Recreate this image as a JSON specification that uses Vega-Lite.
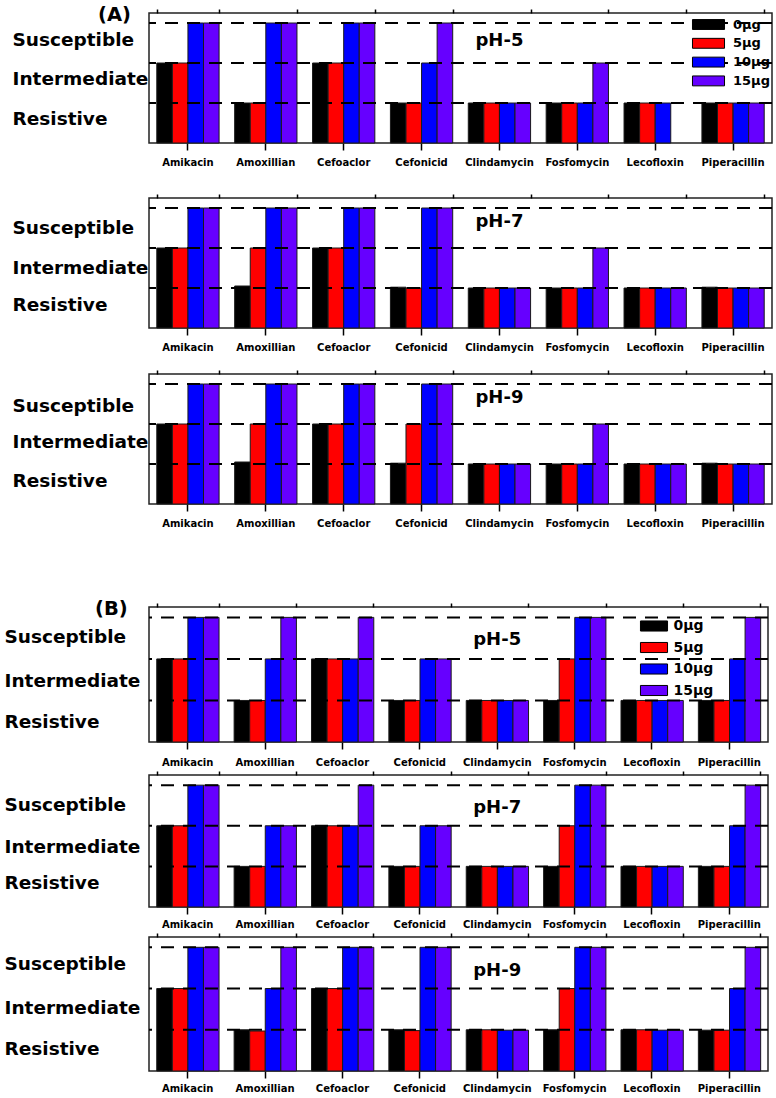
{
  "$schema": "https://vega.github.io/schema/vega-lite/v6.json",
  "padding": {"left": 3, "top": 4, "right": 0, "bottom": 0},
  "background": "white",
  "config": {
    "font": "DejaVu Sans",
    "view": {"stroke": "#222", "strokeWidth": 1.5},
    "axis": {"labelFont": "DejaVu Sans", "labelFontWeight": "bold", "labelColor": "#000", "domain": false, "grid": false},
    "axisX": {"labelAngle": 0, "labelFontSize": 10, "tickSize": 7, "tickColor": "#000", "tickWidth": 1.5, "labelPadding": 7},
    "axisY": {"labelAlign": "left", "labelBaseline": "middle", "labelFontSize": 18.5, "ticks": false},
    "title": {"font": "DejaVu Sans", "fontWeight": "bold", "fontSize": 19.5, "color": "#000", "anchor": "start", "frame": "group"}
  },
  "datasets": {
    "A5": [
      {"ab":"Amikacin","d":"0µg","v":2},{"ab":"Amikacin","d":"5µg","v":2},{"ab":"Amikacin","d":"10µg","v":3},{"ab":"Amikacin","d":"15µg","v":3},
      {"ab":"Amoxillian","d":"0µg","v":1},{"ab":"Amoxillian","d":"5µg","v":1},{"ab":"Amoxillian","d":"10µg","v":3},{"ab":"Amoxillian","d":"15µg","v":3},
      {"ab":"Cefoaclor","d":"0µg","v":2},{"ab":"Cefoaclor","d":"5µg","v":2},{"ab":"Cefoaclor","d":"10µg","v":3},{"ab":"Cefoaclor","d":"15µg","v":3},
      {"ab":"Cefonicid","d":"0µg","v":1},{"ab":"Cefonicid","d":"5µg","v":1},{"ab":"Cefonicid","d":"10µg","v":2},{"ab":"Cefonicid","d":"15µg","v":3},
      {"ab":"Clindamycin","d":"0µg","v":1},{"ab":"Clindamycin","d":"5µg","v":1},{"ab":"Clindamycin","d":"10µg","v":1},{"ab":"Clindamycin","d":"15µg","v":1},
      {"ab":"Fosfomycin","d":"0µg","v":1},{"ab":"Fosfomycin","d":"5µg","v":1},{"ab":"Fosfomycin","d":"10µg","v":1},{"ab":"Fosfomycin","d":"15µg","v":2},
      {"ab":"Lecofloxin","d":"0µg","v":1},{"ab":"Lecofloxin","d":"5µg","v":1},{"ab":"Lecofloxin","d":"10µg","v":1},
      {"ab":"Piperacillin","d":"0µg","v":1},{"ab":"Piperacillin","d":"5µg","v":1},{"ab":"Piperacillin","d":"10µg","v":1},{"ab":"Piperacillin","d":"15µg","v":1}
    ],
    "A7": [
      {"ab":"Amikacin","d":"0µg","v":2},{"ab":"Amikacin","d":"5µg","v":2},{"ab":"Amikacin","d":"10µg","v":3},{"ab":"Amikacin","d":"15µg","v":3},
      {"ab":"Amoxillian","d":"0µg","v":1.05},{"ab":"Amoxillian","d":"5µg","v":2},{"ab":"Amoxillian","d":"10µg","v":3},{"ab":"Amoxillian","d":"15µg","v":3},
      {"ab":"Cefoaclor","d":"0µg","v":2},{"ab":"Cefoaclor","d":"5µg","v":2},{"ab":"Cefoaclor","d":"10µg","v":3},{"ab":"Cefoaclor","d":"15µg","v":3},
      {"ab":"Cefonicid","d":"0µg","v":1.02},{"ab":"Cefonicid","d":"5µg","v":1},{"ab":"Cefonicid","d":"10µg","v":3},{"ab":"Cefonicid","d":"15µg","v":3},
      {"ab":"Clindamycin","d":"0µg","v":1},{"ab":"Clindamycin","d":"5µg","v":1},{"ab":"Clindamycin","d":"10µg","v":1},{"ab":"Clindamycin","d":"15µg","v":1},
      {"ab":"Fosfomycin","d":"0µg","v":1},{"ab":"Fosfomycin","d":"5µg","v":1},{"ab":"Fosfomycin","d":"10µg","v":1},{"ab":"Fosfomycin","d":"15µg","v":2},
      {"ab":"Lecofloxin","d":"0µg","v":1},{"ab":"Lecofloxin","d":"5µg","v":1},{"ab":"Lecofloxin","d":"10µg","v":1},{"ab":"Lecofloxin","d":"15µg","v":1},
      {"ab":"Piperacillin","d":"0µg","v":1.02},{"ab":"Piperacillin","d":"5µg","v":1},{"ab":"Piperacillin","d":"10µg","v":1},{"ab":"Piperacillin","d":"15µg","v":1}
    ],
    "A9": [
      {"ab":"Amikacin","d":"0µg","v":2},{"ab":"Amikacin","d":"5µg","v":2},{"ab":"Amikacin","d":"10µg","v":3},{"ab":"Amikacin","d":"15µg","v":3},
      {"ab":"Amoxillian","d":"0µg","v":1.05},{"ab":"Amoxillian","d":"5µg","v":2},{"ab":"Amoxillian","d":"10µg","v":3},{"ab":"Amoxillian","d":"15µg","v":3},
      {"ab":"Cefoaclor","d":"0µg","v":2},{"ab":"Cefoaclor","d":"5µg","v":2},{"ab":"Cefoaclor","d":"10µg","v":3},{"ab":"Cefoaclor","d":"15µg","v":3},
      {"ab":"Cefonicid","d":"0µg","v":1.02},{"ab":"Cefonicid","d":"5µg","v":2},{"ab":"Cefonicid","d":"10µg","v":3},{"ab":"Cefonicid","d":"15µg","v":3},
      {"ab":"Clindamycin","d":"0µg","v":1},{"ab":"Clindamycin","d":"5µg","v":1},{"ab":"Clindamycin","d":"10µg","v":1},{"ab":"Clindamycin","d":"15µg","v":1},
      {"ab":"Fosfomycin","d":"0µg","v":1},{"ab":"Fosfomycin","d":"5µg","v":1},{"ab":"Fosfomycin","d":"10µg","v":1},{"ab":"Fosfomycin","d":"15µg","v":2},
      {"ab":"Lecofloxin","d":"0µg","v":1},{"ab":"Lecofloxin","d":"5µg","v":1},{"ab":"Lecofloxin","d":"10µg","v":1},{"ab":"Lecofloxin","d":"15µg","v":1},
      {"ab":"Piperacillin","d":"0µg","v":1.02},{"ab":"Piperacillin","d":"5µg","v":1},{"ab":"Piperacillin","d":"10µg","v":1},{"ab":"Piperacillin","d":"15µg","v":1}
    ],
    "B5": [
      {"ab":"Amikacin","d":"0µg","v":2},{"ab":"Amikacin","d":"5µg","v":2},{"ab":"Amikacin","d":"10µg","v":3},{"ab":"Amikacin","d":"15µg","v":3},
      {"ab":"Amoxillian","d":"0µg","v":1},{"ab":"Amoxillian","d":"5µg","v":1},{"ab":"Amoxillian","d":"10µg","v":2},{"ab":"Amoxillian","d":"15µg","v":3},
      {"ab":"Cefoaclor","d":"0µg","v":2},{"ab":"Cefoaclor","d":"5µg","v":2},{"ab":"Cefoaclor","d":"10µg","v":2},{"ab":"Cefoaclor","d":"15µg","v":3},
      {"ab":"Cefonicid","d":"0µg","v":1},{"ab":"Cefonicid","d":"5µg","v":1},{"ab":"Cefonicid","d":"10µg","v":2},{"ab":"Cefonicid","d":"15µg","v":2},
      {"ab":"Clindamycin","d":"0µg","v":1},{"ab":"Clindamycin","d":"5µg","v":1},{"ab":"Clindamycin","d":"10µg","v":1},{"ab":"Clindamycin","d":"15µg","v":1},
      {"ab":"Fosfomycin","d":"0µg","v":1},{"ab":"Fosfomycin","d":"5µg","v":2},{"ab":"Fosfomycin","d":"10µg","v":3},{"ab":"Fosfomycin","d":"15µg","v":3},
      {"ab":"Lecofloxin","d":"0µg","v":1},{"ab":"Lecofloxin","d":"5µg","v":1},{"ab":"Lecofloxin","d":"10µg","v":1},{"ab":"Lecofloxin","d":"15µg","v":1},
      {"ab":"Piperacillin","d":"0µg","v":1},{"ab":"Piperacillin","d":"5µg","v":1},{"ab":"Piperacillin","d":"10µg","v":2},{"ab":"Piperacillin","d":"15µg","v":3}
    ],
    "B7": [
      {"ab":"Amikacin","d":"0µg","v":2},{"ab":"Amikacin","d":"5µg","v":2},{"ab":"Amikacin","d":"10µg","v":3},{"ab":"Amikacin","d":"15µg","v":3},
      {"ab":"Amoxillian","d":"0µg","v":1},{"ab":"Amoxillian","d":"5µg","v":1},{"ab":"Amoxillian","d":"10µg","v":2},{"ab":"Amoxillian","d":"15µg","v":2},
      {"ab":"Cefoaclor","d":"0µg","v":2},{"ab":"Cefoaclor","d":"5µg","v":2},{"ab":"Cefoaclor","d":"10µg","v":2},{"ab":"Cefoaclor","d":"15µg","v":3},
      {"ab":"Cefonicid","d":"0µg","v":1},{"ab":"Cefonicid","d":"5µg","v":1},{"ab":"Cefonicid","d":"10µg","v":2},{"ab":"Cefonicid","d":"15µg","v":2},
      {"ab":"Clindamycin","d":"0µg","v":1},{"ab":"Clindamycin","d":"5µg","v":1},{"ab":"Clindamycin","d":"10µg","v":1},{"ab":"Clindamycin","d":"15µg","v":1},
      {"ab":"Fosfomycin","d":"0µg","v":1},{"ab":"Fosfomycin","d":"5µg","v":2},{"ab":"Fosfomycin","d":"10µg","v":3},{"ab":"Fosfomycin","d":"15µg","v":3},
      {"ab":"Lecofloxin","d":"0µg","v":1},{"ab":"Lecofloxin","d":"5µg","v":1},{"ab":"Lecofloxin","d":"10µg","v":1},{"ab":"Lecofloxin","d":"15µg","v":1},
      {"ab":"Piperacillin","d":"0µg","v":1},{"ab":"Piperacillin","d":"5µg","v":1},{"ab":"Piperacillin","d":"10µg","v":2},{"ab":"Piperacillin","d":"15µg","v":3}
    ],
    "B9": [
      {"ab":"Amikacin","d":"0µg","v":2},{"ab":"Amikacin","d":"5µg","v":2},{"ab":"Amikacin","d":"10µg","v":3},{"ab":"Amikacin","d":"15µg","v":3},
      {"ab":"Amoxillian","d":"0µg","v":1},{"ab":"Amoxillian","d":"5µg","v":0.97},{"ab":"Amoxillian","d":"10µg","v":2},{"ab":"Amoxillian","d":"15µg","v":3},
      {"ab":"Cefoaclor","d":"0µg","v":2},{"ab":"Cefoaclor","d":"5µg","v":2},{"ab":"Cefoaclor","d":"10µg","v":3},{"ab":"Cefoaclor","d":"15µg","v":3},
      {"ab":"Cefonicid","d":"0µg","v":1},{"ab":"Cefonicid","d":"5µg","v":0.98},{"ab":"Cefonicid","d":"10µg","v":3},{"ab":"Cefonicid","d":"15µg","v":3},
      {"ab":"Clindamycin","d":"0µg","v":1},{"ab":"Clindamycin","d":"5µg","v":1},{"ab":"Clindamycin","d":"10µg","v":0.99},{"ab":"Clindamycin","d":"15µg","v":0.99},
      {"ab":"Fosfomycin","d":"0µg","v":1},{"ab":"Fosfomycin","d":"5µg","v":2},{"ab":"Fosfomycin","d":"10µg","v":3},{"ab":"Fosfomycin","d":"15µg","v":3},
      {"ab":"Lecofloxin","d":"0µg","v":1},{"ab":"Lecofloxin","d":"5µg","v":1},{"ab":"Lecofloxin","d":"10µg","v":0.99},{"ab":"Lecofloxin","d":"15µg","v":0.99},
      {"ab":"Piperacillin","d":"0µg","v":0.99},{"ab":"Piperacillin","d":"5µg","v":0.99},{"ab":"Piperacillin","d":"10µg","v":2},{"ab":"Piperacillin","d":"15µg","v":3}
    ],
    "levels": [{"lvl":1},{"lvl":2},{"lvl":3}]
  },
  "concat": [
    {
      "vconcat": [
        {
          "width": 623, "height": 130,
          "title": {"text": "(A)", "dx": -51, "offset": -17},
          "layer": [
            {"data": {"name": "A5"}, "mark": {"type": "bar", "stroke": "#1a1a1a", "strokeWidth": 1},
             "encoding": {
               "x": {"field": "ab", "type": "nominal", "scale": {"domain": ["Amikacin","Amoxillian","Cefoaclor","Cefonicid","Clindamycin","Fosfomycin","Lecofloxin","Piperacillin"], "paddingInner": 0.2, "paddingOuter": 0.1}, "axis": {"title": null, "minExtent": 33}},
               "xOffset": {"field": "d", "type": "nominal", "scale": {"domain": ["0µg","5µg","10µg","15µg"]}},
               "y": {"field": "v", "type": "quantitative", "scale": {"domain": [0, 3.25], "nice": false}, "axis": {"title": null, "values": [0.62, 1.62, 2.6], "labelExpr": "datum.value > 2 ? 'Susceptible' : datum.value > 1 ? 'Intermediate' : 'Resistive'", "labelPadding": 137, "minExtent": 145}},
               "color": {"field": "d", "type": "nominal", "scale": {"domain": ["0µg","5µg","10µg","15µg"], "range": ["#000000","#ff0000","#0000ff","#6600ff"]},
                 "legend": {"orient": "none", "legendX": 550, "legendY": 2, "title": null, "padding": 0, "rowPadding": 1.8, "symbolType": "M-1.78,-0.55H1.78V0.55H-1.78Z", "symbolSize": 324, "symbolStrokeColor": "#000", "symbolStrokeWidth": 1, "labelFont": "DejaVu Sans", "labelFontWeight": "bold", "labelFontSize": 13, "labelColor": "#000", "labelOffset": 15}}
             }},
            {"data": {"name": "levels"}, "mark": {"type": "rule", "strokeDash": [13, 9], "strokeWidth": 2, "color": "#000"}, "encoding": {"y": {"field": "lvl", "type": "quantitative"}}},
            {"data": {"values": [{"label": "pH-5"}]}, "mark": {"type": "text", "font": "DejaVu Sans", "fontWeight": "bold", "fontSize": 18, "baseline": "middle", "align": "center", "color": "#000"},
             "encoding": {"x": {"datum": "Clindamycin", "type": "nominal", "axis": {"labels": false, "tickBand": "extent", "tickSize": 4, "title": null}}, "y": {"datum": 2.55, "type": "quantitative"}, "text": {"field": "label"}}}
          ],
          "resolve": {"axis": {"x": "independent"}}
        },
        {
          "width": 623, "height": 130,
          "layer": [
            {"data": {"name": "A7"}, "mark": {"type": "bar", "stroke": "#1a1a1a", "strokeWidth": 1},
             "encoding": {
               "x": {"field": "ab", "type": "nominal", "scale": {"domain": ["Amikacin","Amoxillian","Cefoaclor","Cefonicid","Clindamycin","Fosfomycin","Lecofloxin","Piperacillin"], "paddingInner": 0.2, "paddingOuter": 0.1}, "axis": {"title": null}},
               "xOffset": {"field": "d", "type": "nominal", "scale": {"domain": ["0µg","5µg","10µg","15µg"]}},
               "y": {"field": "v", "type": "quantitative", "scale": {"domain": [0, 3.25], "nice": false}, "axis": {"title": null, "values": [0.6, 1.52, 2.52], "labelExpr": "datum.value > 2 ? 'Susceptible' : datum.value > 1 ? 'Intermediate' : 'Resistive'", "labelPadding": 137, "minExtent": 145}},
               "color": {"field": "d", "type": "nominal", "scale": {"domain": ["0µg","5µg","10µg","15µg"], "range": ["#000000","#ff0000","#0000ff","#6600ff"]}, "legend": null}
             }},
            {"data": {"name": "levels"}, "mark": {"type": "rule", "strokeDash": [13, 9], "strokeWidth": 2, "color": "#000"}, "encoding": {"y": {"field": "lvl", "type": "quantitative"}}},
            {"data": {"values": [{"label": "pH-7"}]}, "mark": {"type": "text", "font": "DejaVu Sans", "fontWeight": "bold", "fontSize": 18, "baseline": "middle", "align": "center", "color": "#000"},
             "encoding": {"x": {"datum": "Clindamycin", "type": "nominal", "axis": {"labels": false, "tickBand": "extent", "tickSize": 4, "title": null}}, "y": {"datum": 2.65, "type": "quantitative"}, "text": {"field": "label"}}}
          ],
          "resolve": {"axis": {"x": "independent"}}
        },
        {
          "width": 623, "height": 130,
          "layer": [
            {"data": {"name": "A9"}, "mark": {"type": "bar", "stroke": "#1a1a1a", "strokeWidth": 1},
             "encoding": {
               "x": {"field": "ab", "type": "nominal", "scale": {"domain": ["Amikacin","Amoxillian","Cefoaclor","Cefonicid","Clindamycin","Fosfomycin","Lecofloxin","Piperacillin"], "paddingInner": 0.2, "paddingOuter": 0.1}, "axis": {"title": null}},
               "xOffset": {"field": "d", "type": "nominal", "scale": {"domain": ["0µg","5µg","10µg","15µg"]}},
               "y": {"field": "v", "type": "quantitative", "scale": {"domain": [0, 3.25], "nice": false}, "axis": {"title": null, "values": [0.6, 1.57, 2.47], "labelExpr": "datum.value > 2 ? 'Susceptible' : datum.value > 1 ? 'Intermediate' : 'Resistive'", "labelPadding": 137, "minExtent": 145}},
               "color": {"field": "d", "type": "nominal", "scale": {"domain": ["0µg","5µg","10µg","15µg"], "range": ["#000000","#ff0000","#0000ff","#6600ff"]}, "legend": null}
             }},
            {"data": {"name": "levels"}, "mark": {"type": "rule", "strokeDash": [13, 9], "strokeWidth": 2, "color": "#000"}, "encoding": {"y": {"field": "lvl", "type": "quantitative"}}},
            {"data": {"values": [{"label": "pH-9"}]}, "mark": {"type": "text", "font": "DejaVu Sans", "fontWeight": "bold", "fontSize": 18, "baseline": "middle", "align": "center", "color": "#000"},
             "encoding": {"x": {"datum": "Clindamycin", "type": "nominal", "axis": {"labels": false, "tickBand": "extent", "tickSize": 4, "title": null}}, "y": {"datum": 2.65, "type": "quantitative"}, "text": {"field": "label"}}}
          ],
          "resolve": {"axis": {"x": "independent"}}
        }
      ],
      "spacing": 15,
      "resolve": {"legend": {"color": "independent"}}
    },
    {
      "vconcat": [
        {
          "width": 619, "height": 135,
          "title": {"text": "(B)", "dx": -54, "offset": -17},
          "layer": [
            {"data": {"name": "B5"}, "mark": {"type": "bar", "stroke": "#1a1a1a", "strokeWidth": 1},
             "encoding": {
               "x": {"field": "ab", "type": "nominal", "scale": {"domain": ["Amikacin","Amoxillian","Cefoaclor","Cefonicid","Clindamycin","Fosfomycin","Lecofloxin","Piperacillin"], "paddingInner": 0.2, "paddingOuter": 0.1}, "axis": {"title": null, "labelPadding": 8}},
               "xOffset": {"field": "d", "type": "nominal", "scale": {"domain": ["0µg","5µg","10µg","15µg"]}},
               "y": {"field": "v", "type": "quantitative", "scale": {"domain": [0, 3.25], "nice": false}, "axis": {"title": null, "values": [0.5, 1.47, 2.53], "labelExpr": "datum.value > 2 ? 'Susceptible' : datum.value > 1 ? 'Intermediate' : 'Resistive'", "labelPadding": 145, "minExtent": 145}},
               "color": {"field": "d", "type": "nominal", "scale": {"domain": ["0µg","5µg","10µg","15µg"], "range": ["#000000","#ff0000","#0000ff","#6600ff"]},
                 "legend": {"orient": "none", "legendX": 494, "legendY": 8, "title": null, "padding": 0, "rowPadding": 2.5, "symbolType": "M-1.29,-0.48H1.29V0.48H-1.29Z", "symbolSize": 441, "symbolStrokeColor": "#000", "symbolStrokeWidth": 1, "labelFont": "DejaVu Sans", "labelFontWeight": "bold", "labelFontSize": 14, "labelColor": "#000", "labelOffset": 8.5}}
             }},
            {"data": {"name": "levels"}, "mark": {"type": "rule", "strokeDash": [13, 9], "strokeWidth": 2, "color": "#000"}, "encoding": {"y": {"field": "lvl", "type": "quantitative"}}},
            {"data": {"values": [{"label": "pH-5"}]}, "mark": {"type": "text", "font": "DejaVu Sans", "fontWeight": "bold", "fontSize": 18, "baseline": "middle", "align": "center", "color": "#000"},
             "encoding": {"x": {"datum": "Clindamycin", "type": "nominal", "axis": {"labels": false, "tickBand": "extent", "tickSize": 4, "title": null}}, "y": {"datum": 2.46, "type": "quantitative"}, "text": {"field": "label"}}}
          ],
          "resolve": {"axis": {"x": "independent"}}
        },
        {
          "width": 619, "height": 132,
          "layer": [
            {"data": {"name": "B7"}, "mark": {"type": "bar", "stroke": "#1a1a1a", "strokeWidth": 1},
             "encoding": {
               "x": {"field": "ab", "type": "nominal", "scale": {"domain": ["Amikacin","Amoxillian","Cefoaclor","Cefonicid","Clindamycin","Fosfomycin","Lecofloxin","Piperacillin"], "paddingInner": 0.2, "paddingOuter": 0.1}, "axis": {"title": null, "labelPadding": 5}},
               "xOffset": {"field": "d", "type": "nominal", "scale": {"domain": ["0µg","5µg","10µg","15µg"]}},
               "y": {"field": "v", "type": "quantitative", "scale": {"domain": [0, 3.25], "nice": false}, "axis": {"title": null, "values": [0.6, 1.49, 2.53], "labelExpr": "datum.value > 2 ? 'Susceptible' : datum.value > 1 ? 'Intermediate' : 'Resistive'", "labelPadding": 145, "minExtent": 145}},
               "color": {"field": "d", "type": "nominal", "scale": {"domain": ["0µg","5µg","10µg","15µg"], "range": ["#000000","#ff0000","#0000ff","#6600ff"]}, "legend": null}
             }},
            {"data": {"name": "levels"}, "mark": {"type": "rule", "strokeDash": [13, 9], "strokeWidth": 2, "color": "#000"}, "encoding": {"y": {"field": "lvl", "type": "quantitative"}}},
            {"data": {"values": [{"label": "pH-7"}]}, "mark": {"type": "text", "font": "DejaVu Sans", "fontWeight": "bold", "fontSize": 18, "baseline": "middle", "align": "center", "color": "#000"},
             "encoding": {"x": {"datum": "Clindamycin", "type": "nominal", "axis": {"labels": false, "tickBand": "extent", "tickSize": 4, "title": null}}, "y": {"datum": 2.43, "type": "quantitative"}, "text": {"field": "label"}}}
          ],
          "resolve": {"axis": {"x": "independent"}}
        },
        {
          "width": 619, "height": 134,
          "layer": [
            {"data": {"name": "B9"}, "mark": {"type": "bar", "stroke": "#1a1a1a", "strokeWidth": 1},
             "encoding": {
               "x": {"field": "ab", "type": "nominal", "scale": {"domain": ["Amikacin","Amoxillian","Cefoaclor","Cefonicid","Clindamycin","Fosfomycin","Lecofloxin","Piperacillin"], "paddingInner": 0.2, "paddingOuter": 0.1}, "axis": {"title": null, "labelPadding": 5}},
               "xOffset": {"field": "d", "type": "nominal", "scale": {"domain": ["0µg","5µg","10µg","15µg"]}},
               "y": {"field": "v", "type": "quantitative", "scale": {"domain": [0, 3.25], "nice": false}, "axis": {"title": null, "values": [0.55, 1.54, 2.6], "labelExpr": "datum.value > 2 ? 'Susceptible' : datum.value > 1 ? 'Intermediate' : 'Resistive'", "labelPadding": 145, "minExtent": 145}},
               "color": {"field": "d", "type": "nominal", "scale": {"domain": ["0µg","5µg","10µg","15µg"], "range": ["#000000","#ff0000","#0000ff","#6600ff"]}, "legend": null}
             }},
            {"data": {"name": "levels"}, "mark": {"type": "rule", "strokeDash": [13, 9], "strokeWidth": 2, "color": "#000"}, "encoding": {"y": {"field": "lvl", "type": "quantitative"}}},
            {"data": {"values": [{"label": "pH-9"}]}, "mark": {"type": "text", "font": "DejaVu Sans", "fontWeight": "bold", "fontSize": 18, "baseline": "middle", "align": "center", "color": "#000"},
             "encoding": {"x": {"datum": "Clindamycin", "type": "nominal", "axis": {"labels": false, "tickBand": "extent", "tickSize": 4, "title": null}}, "y": {"datum": 2.43, "type": "quantitative"}, "text": {"field": "label"}}}
          ],
          "resolve": {"axis": {"x": "independent"}}
        }
      ],
      "spacing": 1,
      "resolve": {"legend": {"color": "independent"}}
    }
  ],
  "columns": 1,
  "spacing": 69,
  "resolve": {"legend": {"color": "independent"}}
}
